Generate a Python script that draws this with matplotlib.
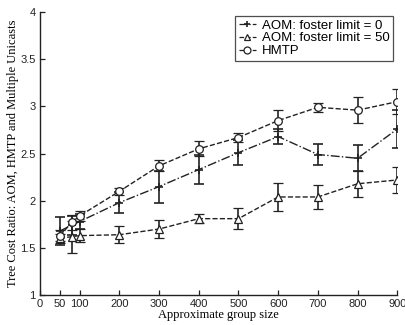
import matplotlib
matplotlib.use("Agg")
import matplotlib.pyplot as plt
from matplotlib.lines import Line2D

group_size = [50, 80, 100, 200, 300, 400, 500, 600, 700, 800, 900]
aom0 = [1.68, 1.74, 1.78, 1.98, 2.15, 2.33, 2.51, 2.68, 2.49, 2.45, 2.76]
aom0_err = [0.15, 0.10, 0.08, 0.11, 0.17, 0.15, 0.13, 0.08, 0.11, 0.14, 0.20]
aom50 = [1.60, 1.62, 1.63, 1.64, 1.70, 1.81, 1.81, 2.04, 2.04, 2.18, 2.22]
aom50_err = [0.05, 0.17, 0.07, 0.09, 0.10, 0.05, 0.11, 0.15, 0.13, 0.14, 0.14]
hmtp = [1.63, 1.77, 1.84, 2.10, 2.37, 2.55, 2.67, 2.85, 2.99, 2.96, 3.05]
hmtp_err = [0.06, 0.08, 0.05, 0.04, 0.06, 0.08, 0.05, 0.11, 0.05, 0.14, 0.13]

xticks = [0, 50, 100, 200, 300, 400, 500, 600, 700, 800, 900]
yticks = [1, 1.5, 2, 2.5, 3, 3.5, 4]
labels = ['AOM: foster limit = 0', 'AOM: foster limit = 50', 'HMTP']

fig = plt.figure(figsize=(4.06, 3.25), dpi=100)
ax = fig.add_axes([0.0985, 0.092, 0.88, 0.871])

c = '#222222'
common = dict(color=c, ecolor=c, elinewidth=1.2, capsize=3.5, capthick=1.2,
              linewidth=1.0, markersize=5.5, markerfacecolor='white', markeredgecolor=c)
specs = [('-.', '+', 1.2), ('--', '^', 0.9), ('--', 'o', 0.9)]
series = [(aom0, aom0_err), (aom50, aom50_err), (hmtp, hmtp_err)]
handles = []
for (ls, mk, mew), (vals, errs), lab in zip(specs, series, labels):
    ax.errorbar(group_size, vals, yerr=errs, fmt=ls, marker=mk, markeredgewidth=mew, **common)
    handles.append(Line2D([], [], color=c, linestyle=ls, marker=mk, markersize=5,
                          markerfacecolor='white', markeredgecolor=c, markeredgewidth=mew,
                          linewidth=0.9))

ax.set_xlim(0, 900)
ax.set_ylim(1, 4)
ax.set_xticks(xticks)
ax.set_xticklabels([str(v) for v in xticks], family='Liberation Sans', fontsize=8)
ax.set_yticks(yticks)
ax.set_yticklabels(['1', '1.5', '2', '2.5', '3', '3.5', '4'], family='Liberation Sans', fontsize=8)
ax.tick_params(direction='in', length=3.5, width=0.9, pad=3, colors=c)
for s in ['top', 'right']:
    ax.spines[s].set_visible(False)
for s in ['left', 'bottom']:
    ax.spines[s].set_linewidth(1.0)
    ax.spines[s].set_color(c)

ax.set_xlabel('Approximate group size', family='Liberation Serif', fontsize=9, labelpad=0)
ax.set_ylabel('Tree Cost Ratio: AOM, HMTP and Multiple Unicasts', family='Liberation Serif',
              fontsize=9, labelpad=1)

leg = ax.legend(handles, labels, loc='upper right', bbox_to_anchor=(1.0, 1.0),
                prop={'family': 'Liberation Sans', 'size': 9.5},
                frameon=True, fancybox=False, edgecolor=c, borderpad=0.25, labelspacing=0.05,
                handlelength=1.3, handletextpad=0.5, borderaxespad=0.3)
leg.get_frame().set_linewidth(0.9)

fig.savefig('out.png', dpi=100)
